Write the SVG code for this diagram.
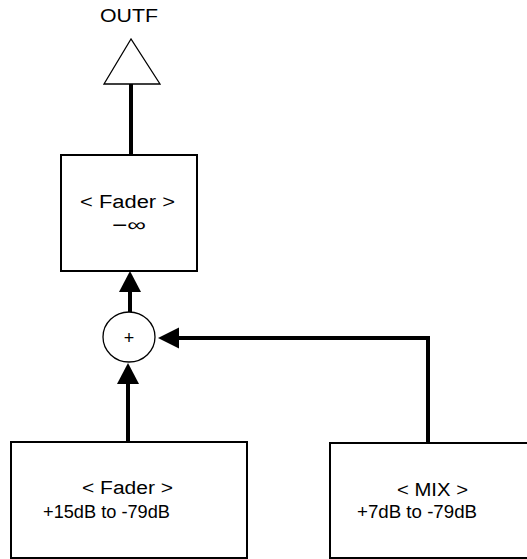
<svg xmlns="http://www.w3.org/2000/svg" width="527" height="559" viewBox="0 0 527 559">
<style>
.box{fill:#fff;stroke:#000;stroke-width:2}
.thin{fill:#fff;stroke:#000;stroke-width:1.3}
.wire{fill:none;stroke:#000;stroke-width:4;stroke-linejoin:miter}
.head{fill:#000;stroke:none}
text{font-family:"Liberation Sans",Arial,sans-serif;font-size:18px;fill:#000}
</style>
<rect width="527" height="559" fill="#fff"/>
<g id="connectors">
<path class="wire" d="M131,84 V155"/>
<path class="wire" d="M130,312 V290"/>
<polygon class="head" points="130,271 119,292 141,292"/>
<path class="wire" d="M128,442 V382"/>
<polygon class="head" points="128,363 117,384 139,384"/>
<path class="wire" d="M428,443 V338 H176"/>
<polygon class="head" points="158,338 179,327.5 179,348.5"/>
</g>
<g id="outf">
<text x="100" y="22" textLength="58" lengthAdjust="spacingAndGlyphs">OUTF</text>
<polygon class="thin" points="131,39 104,84 160,84"/>
</g>
<g id="fader-master">
<rect class="box" x="61" y="155" width="136" height="116"/>
<text x="80" y="208" textLength="95" lengthAdjust="spacingAndGlyphs">&lt; Fader &gt;</text>
<text x="112" y="231" font-size="20" textLength="34" lengthAdjust="spacingAndGlyphs">−∞</text>
</g>
<g id="sum">
<ellipse class="thin" cx="129" cy="337" rx="26" ry="25"/>
<text x="129" y="344" font-size="20" text-anchor="middle">+</text>
</g>
<g id="fader-input">
<rect class="box" x="11" y="442" width="236" height="116"/>
<text x="82" y="494" textLength="91" lengthAdjust="spacingAndGlyphs">&lt; Fader &gt;</text>
<text x="43" y="518" textLength="127" lengthAdjust="spacingAndGlyphs">+15dB to -79dB</text>
</g>
<g id="mix">
<rect class="box" x="330" y="443" width="220" height="115"/>
<text x="397" y="496" textLength="71" lengthAdjust="spacingAndGlyphs">&lt; MIX &gt;</text>
<text x="357" y="518" textLength="120" lengthAdjust="spacingAndGlyphs">+7dB to -79dB</text>
</g>
</svg>
